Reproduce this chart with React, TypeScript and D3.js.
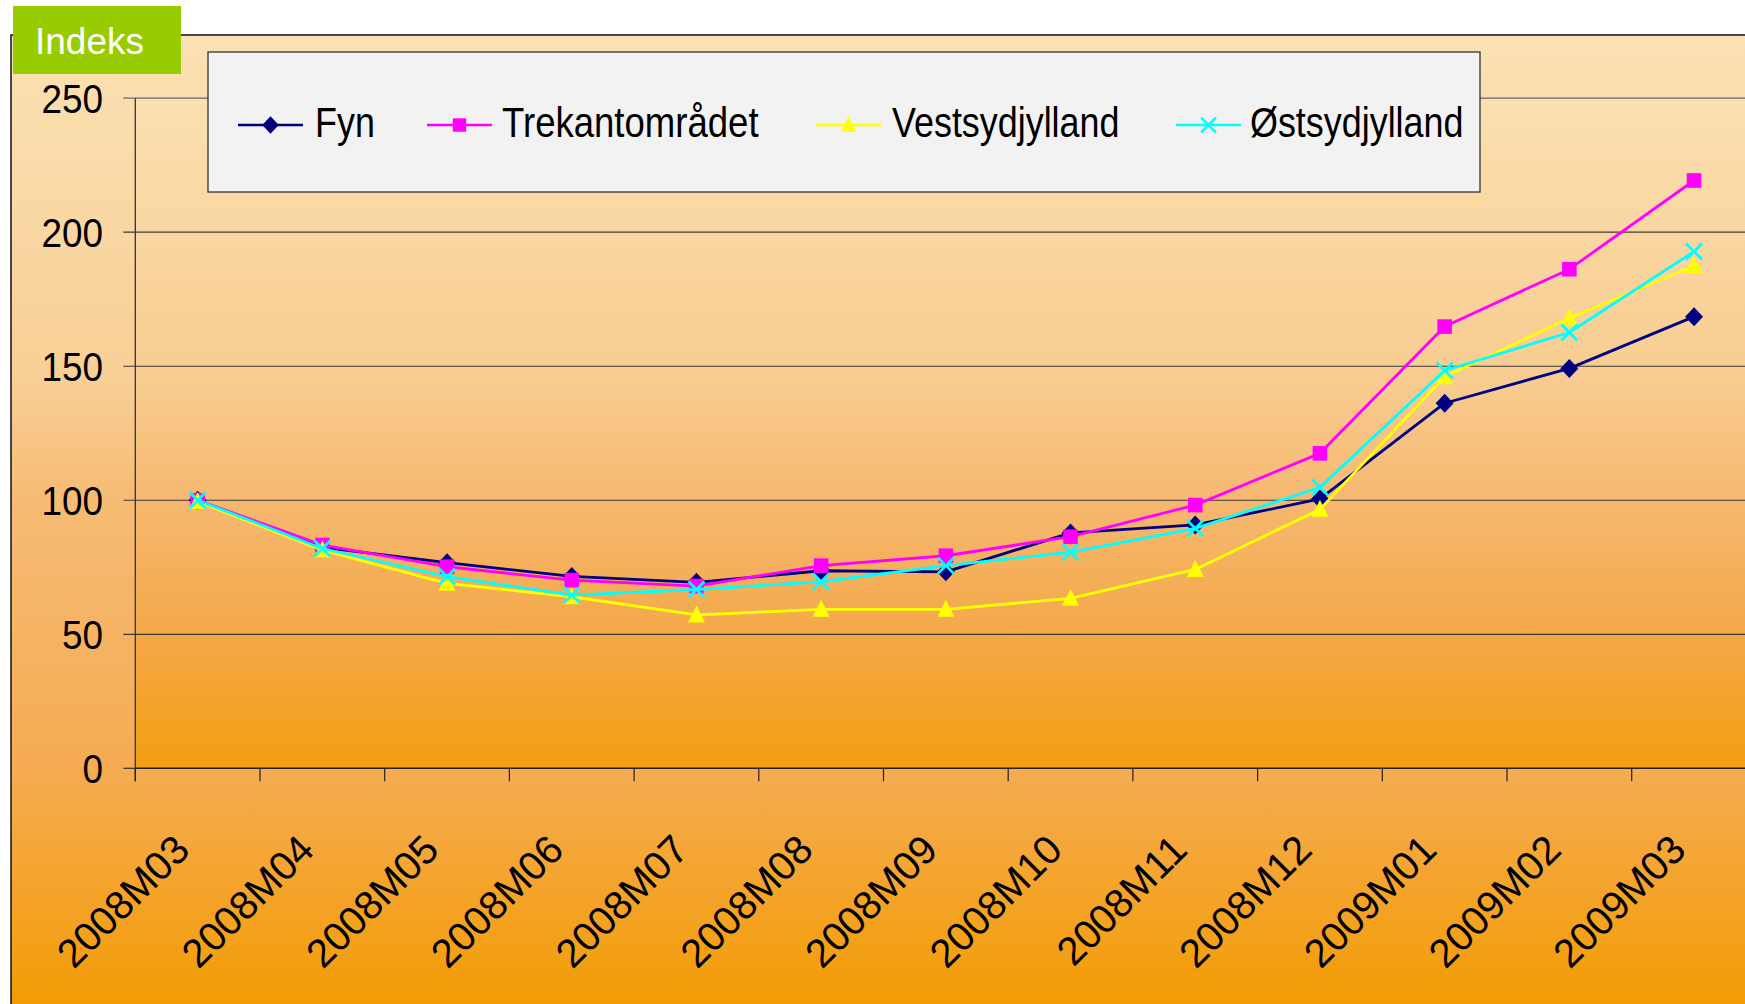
import React from "react";
import * as d3 from "d3";

const categories = ["2008M03","2008M04","2008M05","2008M06","2008M07","2008M08","2008M09","2008M10","2008M11","2008M12","2009M01","2009M02","2009M03"];
const fyn = [100, 82.4, 76.7, 71.6, 69.4, 73.7, 73.3, 87.8, 90.8, 100.5, 136.2, 149.2, 168.5];
const trekant = [100, 83.3, 75.2, 70.2, 68, 75.6, 79.3, 86.4, 98.2, 117.5, 164.8, 186.2, 219.3];
const vest = [99.5, 81.4, 69, 64, 57.2, 59.3, 59.3, 63.4, 74.2, 96.6, 146.1, 167.9, 187.5];
const oest = [100, 82, 71.5, 64.6, 66.7, 69.6, 75.6, 80.6, 89.5, 104.8, 148.4, 162.6, 192.8];
const yTicks = [0, 50, 100, 150, 200, 250];

const seriesNames = ["Fyn", "Trekantområdet", "Vestsydjylland", "Østsydjylland"];
const seriesValues = [fyn, trekant, vest, oest];
const seriesColors = ["#000080", "#ff00ff", "#ffff00", "#00ffff"];
const seriesMarkers = ["diamond", "square", "triangle", "x"];

const W = 1745, H = 1004;
const plotLeft = 135.3, band = 124.7;
const x = d3.scaleBand<string>().domain(categories).range([plotLeft, plotLeft + band * categories.length]);
const y = d3.scaleLinear().domain([0, 250]).range([768.3, 98.2]);
const font = "'Liberation Sans', Arial, Helvetica, sans-serif";

function Marker({ kind, cx, cy, color, s = 1 }: { kind: string; cx: number; cy: number; color: string; s?: number }) {
  if (kind === "diamond") {
    return <path d={`M${cx},${cy - 9.5 * s}L${cx + 9 * s},${cy}L${cx},${cy + 9.5 * s}L${cx - 9 * s},${cy}Z`} fill={color} />;
  }
  if (kind === "square") {
    const h = 7.3 * s;
    return <rect x={cx - h} y={cy - h} width={2 * h} height={2 * h} fill={color} />;
  }
  if (kind === "triangle") {
    return <path d={`M${cx},${cy - 9.5 * s}L${cx + 8.5 * s},${cy + 7.5 * s}L${cx - 8.5 * s},${cy + 7.5 * s}Z`} fill={color} />;
  }
  const h = 8 * s;
  return (
    <path d={`M${cx - h},${cy - h}L${cx + h},${cy + h}M${cx + h},${cy - h}L${cx - h},${cy + h}`} stroke={color} strokeWidth={2.7} fill="none" />
  );
}

const legendItems = [
  { x1: 238, text: 315 },
  { x1: 427, text: 502 },
  { x1: 816, text: 892 },
  { x1: 1176, text: 1250 },
];

export default function App() {
  const line = d3.line<number>().x((_, i) => (x(categories[i]) as number) + x.bandwidth() / 2).y((d) => y(d));
  const x0 = plotLeft, x1 = plotLeft + band * categories.length;
  return (
    <svg width={W} height={H} style={{ position: "absolute", left: 0, top: 0 }} xmlns="http://www.w3.org/2000/svg">
      <defs>
        <linearGradient id="chartG" x1="0" y1="35" x2="0" y2="1004" gradientUnits="userSpaceOnUse">
          <stop offset="0" stopColor="#fbe1b3" />
          <stop offset="0.356" stopColor="#f8cf96" />
          <stop offset="0.48" stopColor="#f6bb74" />
          <stop offset="0.756" stopColor="#f5ac52" />
          <stop offset="1" stopColor="#f39c06" />
        </linearGradient>
        <linearGradient id="plotG" x1="0" y1="98" x2="0" y2="768" gradientUnits="userSpaceOnUse">
          <stop offset="0" stopColor="#fbe0b0" />
          <stop offset="0.42" stopColor="#f8cc90" />
          <stop offset="0.6" stopColor="#f6b870" />
          <stop offset="0.8" stopColor="#f4a848" />
          <stop offset="1" stopColor="#f39e10" />
        </linearGradient>
      </defs>
      <rect x={0} y={0} width={W} height={H} fill="#ffffff" />
      <rect x={11} y={35} width={W} height={H} fill="url(#chartG)" stroke="#111" strokeWidth={1.5} />
      <rect x={x0} y={y(250)} width={x1 - x0} height={y(0) - y(250)} fill="url(#plotG)" />
      {yTicks.filter((t) => t > 0).map((t) => (
        <line key={t} x1={x0 - 12} x2={x1} y1={y(t)} y2={y(t)} stroke={t === 250 ? "#8a8a8a" : "#3a3a3a"} strokeWidth={t === 250 ? 1.8 : 1.2} />
      ))}
      <line x1={x0 - 12} x2={x0} y1={y(0)} y2={y(0)} stroke="#333" strokeWidth={1.2} />
      <line x1={x0} x2={x0} y1={y(250)} y2={y(0) + 13} stroke="#333" strokeWidth={1.3} />
      <line x1={x0} x2={x1} y1={y(0)} y2={y(0)} stroke="#222" strokeWidth={1.6} />
      {categories.map((c) => (
        <line key={c} x1={x(c) as number} x2={x(c) as number} y1={y(0)} y2={y(0) + 13} stroke="#222" strokeWidth={1.2} />
      ))}
      {yTicks.map((t) => (
        <text key={t} transform={`translate(103,${y(t)}) scale(0.9,1)`} textAnchor="end" dy="0.36em" fontFamily={font} fontSize={41} fill="#000">{t}</text>
      ))}
      {categories.map((c) => {
        const cx = (x(c) as number) + x.bandwidth() / 2;
        return (
          <text key={c} transform={`translate(${cx - 6},${852}) rotate(-45)`} textAnchor="end" fontFamily={font} fontSize={40} fill="#000">{c}</text>
        );
      })}
      {seriesValues.map((vals, si) => (
        <g key={seriesNames[si]}>
          <path d={line(vals) as string} fill="none" stroke={seriesColors[si]} strokeWidth={2.8} strokeLinejoin="round" />
          {vals.map((v, i) => (
            <Marker key={i} kind={seriesMarkers[si]} cx={(x(categories[i]) as number) + x.bandwidth() / 2} cy={y(v)} color={seriesColors[si]} />
          ))}
        </g>
      ))}
      <rect x={208} y={52} width={1272} height={140} fill="#f1f2f1" stroke="#333" strokeWidth={1.3} />
      {legendItems.map((li, i) => (
        <g key={seriesNames[i]}>
          <line x1={li.x1} x2={li.x1 + 65} y1={125} y2={125} stroke={seriesColors[i]} strokeWidth={2.3} />
          <Marker kind={seriesMarkers[i]} cx={li.x1 + 32.5} cy={125} color={seriesColors[i]} s={0.92} />
          <text transform={`translate(${li.text},137) scale(${i === 1 ? 0.87 : 0.855},1)`} fontFamily={font} fontSize={42} fill="#000">{seriesNames[i]}</text>
        </g>
      ))}
      <rect x={13} y={6} width={168} height={68} fill="#99cc00" />
      <text x={35} y={54} fontFamily={font} fontSize={37} fill="#ffffff">Indeks</text>
    </svg>
  );
}
